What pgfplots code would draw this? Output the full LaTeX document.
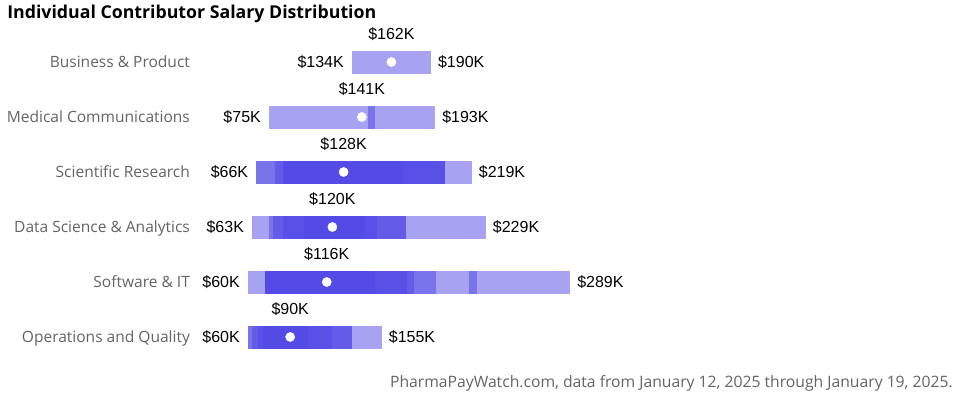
\documentclass[border=0pt]{standalone}
\usepackage{fontspec}
\setmainfont{Open Sans}
\newfontfamily\arial{Liberation Sans}
\usepackage{pgfplots}
\pgfplotsset{compat=1.18}

\definecolor{indigo}{RGB}{79,70,229}
\definecolor{labelgray}{RGB}{100,100,100}

% one salary range: row, low, high (in $K)
\newcommand{\range}[3]{\addplot[band] coordinates {(#2,#1) (#3,#1)};}

\begin{document}
\begin{tikzpicture}
\path[use as bounding box] (0,0) rectangle (720pt,300pt);
\node[anchor=west, inner sep=0pt, font=\fontsize{13.3}{15}\selectfont\bfseries] at (5.25pt,289.5pt)
  {Individual Contributor Salary Distribution};
\node[anchor=east, inner sep=0pt, text=labelgray, font=\fontsize{11.78}{14}\selectfont] at (714.75pt,12.5pt)
  {PharmaPayWatch.com, data from January 12, 2025 through January 19, 2025.};
\begin{axis}[
    at={(143.82pt,26.625pt)}, anchor=south west,
    scale only axis, width=295.3pt, height=247.5pt,
    xmin=20, xmax=300, ymin=0.5, ymax=6.5,
    clip=false,
    axis line style={draw=none},
    major tick length=0pt,
    xtick=\empty,
    ytick={1,2,3,4,5,6},
    yticklabels={Operations and Quality, Software \& IT, Data Science \& Analytics,
                 Scientific Research, Medical Communications, Business \& Product},
    yticklabel style={anchor=base east, inner sep=0pt, xshift=-1.2pt, yshift=-4.3pt,
                      text=labelgray, font=\fontsize{11.65}{13}\selectfont},
    band/.style={indigo, opacity=0.5, line width=17.25pt, line cap=butt},
    /pgf/number format/assume math mode=true,
    vlabel/.style={draw=none, point meta=x,
        nodes near coords={\$\pgfmathprintnumber[fixed,precision=0]{\pgfplotspointmeta}K},
        every node near coord/.append style={inner sep=0pt,
            font=\arial\fontsize{12}{14}\selectfont, text=black}},
]
% Business & Product
\range{6}{134}{190}
% Medical Communications
\range{5}{75}{193}
\range{5}{145}{150}
% Scientific Research
\range{4}{66}{219}
\range{4}{66}{200}
\range{4}{79}{200}
\range{4}{85}{200}
\range{4}{85}{170}
% Data Science & Analytics
\range{3}{63}{229}
\range{3}{75}{172}
\range{3}{78}{172}
\range{3}{85}{152}
\range{3}{100}{143}
% Software & IT
\range{2}{60}{289}
\range{2}{72}{194}
\range{2}{72}{178}
\range{2}{72}{173}
\range{2}{72}{150}
\range{2}{217}{223}
% Operations and Quality
\range{1}{60}{155}
\range{1}{60}{134}
\range{1}{63}{134}
\range{1}{67}{120}
\range{1}{71}{103}

% medians
\addplot[only marks, mark=*, mark size=3.4pt, white, draw=none] coordinates {
  (162,6) (141,5) (128,4) (120,3) (116,2) (90,1)};

% minimum labels
\addplot[vlabel, every node near coord/.append style={anchor=east, xshift=-6pt}]
  coordinates {(134,6) (75,5) (66,4) (63,3) (60,2) (60,1)};
% maximum labels
\addplot[vlabel, every node near coord/.append style={anchor=west, xshift=5.25pt}]
  coordinates {(190,6) (193,5) (219,4) (229,3) (289,2) (155,1)};
% median labels
\addplot[vlabel, every node near coord/.append style={anchor=center, yshift=21pt}]
  coordinates {(162,6) (141,5) (128,4) (120,3) (116,2) (90,1)};
\end{axis}
\end{tikzpicture}
\end{document}
